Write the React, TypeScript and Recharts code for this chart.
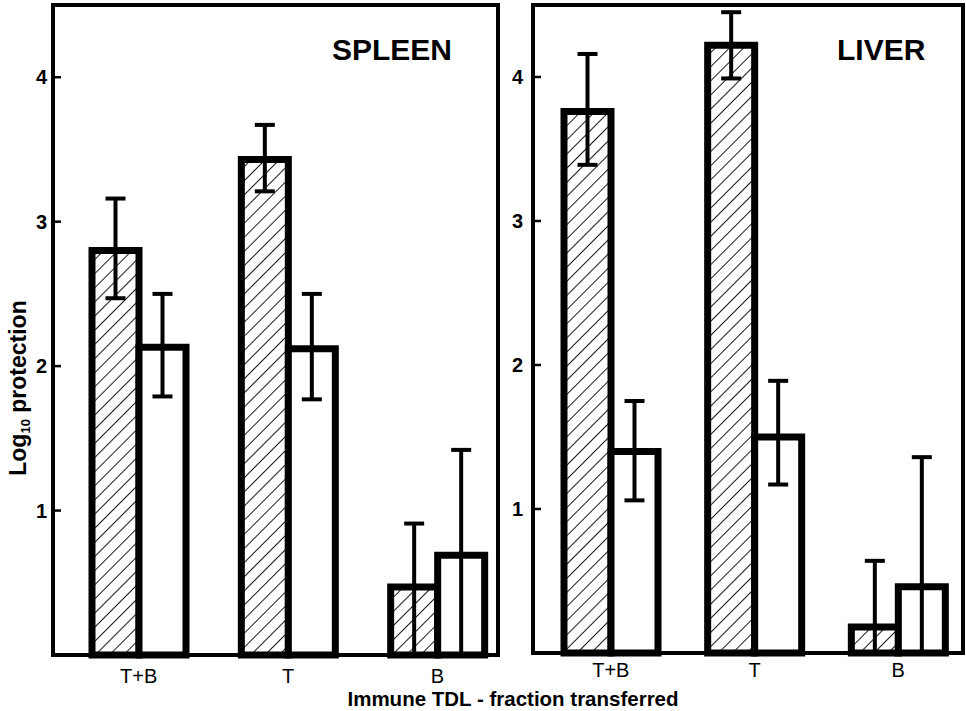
import { BarChart, Bar, XAxis, YAxis, ErrorBar } from 'recharts'

const FONT = "'Liberation Sans', Arial, Helvetica, sans-serif"

const fractions = ['T+B', 'T', 'B']
const yTicks = [1, 2, 3, 4]

// SPLEEN panel (log10 protection)
const spleenHatched = [2.8, 3.43, 0.47]
const spleenHatchedLow = [2.47, 3.21, 0]
const spleenHatchedHigh = [3.16, 3.67, 0.91]
const spleenOpen = [2.13, 2.12, 0.69]
const spleenOpenLow = [1.79, 1.77, 0]
const spleenOpenHigh = [2.5, 2.5, 1.42]

// LIVER panel
const liverHatched = [3.76, 4.22, 0.18]
const liverHatchedLow = [3.39, 3.99, 0]
const liverHatchedHigh = [4.16, 4.45, 0.64]
const liverOpen = [1.4, 1.5, 0.46]
const liverOpenLow = [1.06, 1.17, 0]
const liverOpenHigh = [1.75, 1.89, 1.36]

function buildRows(
	hatched: number[], hLow: number[], hHigh: number[],
	open: number[], oLow: number[], oHigh: number[]
) {
	return fractions.map((name, i) => ({
		name,
		hatched: hatched[i],
		hatchedErr: [hatched[i] - hLow[i], hHigh[i] - hatched[i]],
		open: open[i],
		openErr: [open[i] - oLow[i], oHigh[i] - open[i]],
	}))
}

const spleenRows = buildRows(spleenHatched, spleenHatchedLow, spleenHatchedHigh, spleenOpen, spleenOpenLow, spleenOpenHigh)
const liverRows = buildRows(liverHatched, liverHatchedLow, liverHatchedHigh, liverOpen, liverOpenLow, liverOpenHigh)

const frameLine = { stroke: '#000', strokeWidth: 4 }

function YTick(props: any) {
	const { x, y, payload, gap } = props
	const ax = x + gap
	return (
		<g>
			<line x1={ax} x2={ax + 8} y1={y} y2={y} stroke="#000" strokeWidth={2.5} />
			<text x={x} y={y + 7} textAnchor="end" style={{ fontSize: 20, fontWeight: 700, fontFamily: FONT }} fill="#000">
				{payload.value}
			</text>
		</g>
	)
}

function XTick(props: any) {
	const { x, y, payload } = props
	return (
		<text x={x} y={y + 14} textAnchor="middle" style={{ fontSize: 20, fontFamily: FONT }} fill="#000">
			{payload.value}
		</text>
	)
}

type PanelProps = {
	rows: any[]
	left: number
	width: number
	marginRight: number
	yAxisWidth: number
	xAxisHeight: number
	padding: { left: number; right: number }
	tickGap: number
	xTickMargin: number
	patternId: string
}

function Panel(p: PanelProps) {
	return (
		<div style={{ position: 'absolute', left: p.left, top: 0 }}>
			<BarChart
				width={p.width}
				height={711}
				data={p.rows}
				margin={{ top: 5, right: p.marginRight, bottom: 0, left: 0 }}
				barGap={0}
				barSize={47}
			>
				<defs>
					<pattern id={p.patternId} width="10" height="10" patternUnits="userSpaceOnUse" patternTransform="rotate(45)">
						<rect width="10" height="10" fill="#fff" />
						<line x1="0" y1="0" x2="0" y2="10" stroke="#000" strokeWidth="1.8" />
					</pattern>
				</defs>
				<XAxis
					dataKey="name"
					height={p.xAxisHeight}
					padding={p.padding}
					axisLine={frameLine}
					tickLine={false}
					tickSize={0}
					tickMargin={p.xTickMargin}
					tick={(t: any) => <XTick {...t} />}
				/>
				<YAxis
					type="number"
					domain={[0, 4.5]}
					ticks={yTicks}
					width={p.yAxisWidth}
					axisLine={frameLine}
					tickLine={false}
					tickSize={0}
					tickMargin={p.tickGap}
					tick={(t: any) => <YTick {...t} gap={p.tickGap} />}
				/>
				<Bar dataKey="hatched" fill={`url(#${p.patternId})`} stroke="#000" strokeWidth={7} isAnimationActive={false}>
					<ErrorBar dataKey="hatchedErr" width={10} strokeWidth={4} stroke="#000" isAnimationActive={false} />
				</Bar>
				<Bar dataKey="open" fill="#fff" stroke="#000" strokeWidth={7} isAnimationActive={false}>
					<ErrorBar dataKey="openErr" width={10} strokeWidth={4} stroke="#000" isAnimationActive={false} />
				</Bar>
			</BarChart>
		</div>
	)
}

export default function App() {
	return (
		<div style={{ position: 'absolute', left: 0, top: 0, width: 966, height: 711, background: '#fff' }}>
			<Panel
				rows={spleenRows}
				left={0}
				width={510}
				marginRight={12}
				yAxisWidth={53}
				xAxisHeight={56}
				padding={{ left: 11, right: -14 }}
				tickGap={6}
				xTickMargin={14}
				patternId="hatchSpleen"
			/>
			<Panel
				rows={liverRows}
				left={508}
				width={458}
				marginRight={3}
				yAxisWidth={25}
				xAxisHeight={58}
				padding={{ left: 6, right: -7 }}
				tickGap={10}
				xTickMargin={10}
				patternId="hatchLiver"
			/>
			<svg width={966} height={711} style={{ position: 'absolute', left: 0, top: 0, pointerEvents: 'none' }}>
				{/* panel frames */}
				<rect x={53} y={5} width={445} height={650} fill="none" stroke="#000" strokeWidth={4} />
				<rect x={533} y={5} width={430} height={648} fill="none" stroke="#000" strokeWidth={4} />
				<text x={332} y={60} fontSize={30} fontWeight="bold" fontFamily={FONT} fill="#000">SPLEEN</text>
				<text x={837} y={60} fontSize={30} fontWeight="bold" fontFamily={FONT} fill="#000">LIVER</text>
				<text x={513} y={706} textAnchor="middle" fontSize={20.5} fontWeight="bold" fontFamily={FONT} fill="#000">
					Immune TDL - fraction transferred
				</text>
				<text transform="translate(26,388) rotate(-90)" textAnchor="middle" fontSize={23} fontWeight="bold" fontFamily={FONT} fill="#000">
					Log<tspan fontSize={13} dy={4}>10</tspan><tspan dy={-4}> protection</tspan>
				</text>
			</svg>
		</div>
	)
}
